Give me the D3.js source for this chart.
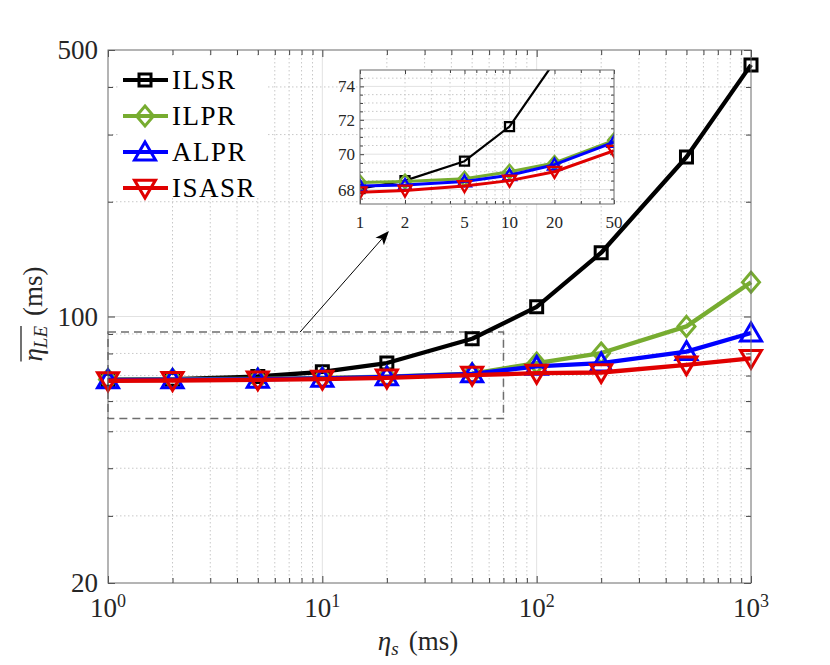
<!DOCTYPE html>
<html>
<head>
<meta charset="utf-8">
<script src="https://cdn.jsdelivr.net/npm/d3@7"></script>
<style>
  body { margin: 0; background: #fff; }
  svg { font-family: "Liberation Serif", "DejaVu Serif", serif; }
</style>
</head>
<body>
<svg width="830" height="665"></svg>
<script>
  // DATA
  const etaS = [1, 2, 5, 10, 20, 50, 100, 200, 500, 1000];
  const ilsr = [68.05, 68.5, 69.6, 71.6, 75.5, 87.4, 106, 147, 262, 457];
  const ilpr = [68.4, 68.45, 68.6, 69.0, 69.5, 70.8, 75.5, 80.2, 94.2, 123];
  const alpr = [68.2, 68.25, 68.45, 68.8, 69.4, 70.7, 74.0, 75.5, 80.9, 90.5];
  const isasr = [67.85, 67.95, 68.2, 68.5, 69.0, 70.2, 71.0, 71.3, 74.7, 77.7];
  const seriesNames = ["ILSR", "ILPR", "ALPR", "ISASR"];
  const xTickValues = [1, 10, 100, 1000];
  const xTickExponents = ["0", "1", "2", "3"];
  const yTickValues = [20, 100, 500];
  const zoomXTicks = [1, 2, 5, 10, 20, 50];
  const zoomYTicks = [68, 70, 72, 74];
  const zoomXDomain = [1, 50];
  const zoomYDomain = [67.2, 75];
  const zoomBoxX = [1, 70];
  const zoomBoxY = [54, 91];

  // SVG PARAMETERS
  const svg = d3.select("svg");
  const axisColor = "#404040";
  const textColor = "#262626";

  const series = [
    { name: seriesNames[0], values: ilsr, color: "#000000", shape: "square" },
    { name: seriesNames[1], values: ilpr, color: "#77ac30", shape: "diamond" },
    { name: seriesNames[2], values: alpr, color: "#0000ff", shape: "up" },
    { name: seriesNames[3], values: isasr, color: "#e00000", shape: "down" }
  ];

  // marker outlines, s = overall size in px
  const markerPath = (shape, s) => {
    const h = s / 2;
    if (shape === "square") return `M${-h},${-h}H${h}V${h}H${-h}Z`;
    if (shape === "diamond") return `M0,${-h}L${h * 0.85},0L0,${h}L${-h * 0.85},0Z`;
    if (shape === "up") return `M0,${-h * 0.95}L${h},${h * 0.75}L${-h},${h * 0.75}Z`;
    return `M0,${h * 0.95}L${h},${-h * 0.75}L${-h},${-h * 0.75}Z`;
  };
  const markerSize = { square: 12, diamond: 20, up: 21, down: 21 };
  const zoomMarkerSize = { square: 9, diamond: 14, up: 13, down: 13 };

  // log minor positions inside a domain
  const logMinors = (lo, hi) => {
    const out = [];
    for (let d = Math.pow(10, Math.floor(Math.log10(lo))); d < hi; d *= 10) {
      for (let k = 2; k < 10; k++) {
        const v = d * k;
        if (v > lo && v < hi) out.push(v);
      }
    }
    return out;
  };

  // MAIN AXES
  const plot = { left: 108, top: 50, right: 751, bottom: 583 };
  const innerWidth = plot.right - plot.left;
  const innerHeight = plot.bottom - plot.top;

  const xScale = d3.scaleLog().domain([1, 1000]).range([plot.left, plot.right]);
  const yScale = d3.scaleLog().domain([20, 500]).range([plot.bottom, plot.top]);

  const xMinor = logMinors(1, 1000);
  const yMinor = logMinors(20, 500);

  // grid
  const grid = svg.append("g");
  grid.selectAll(".xmin").data(xMinor).enter().append("line")
    .attr("x1", d => xScale(d)).attr("x2", d => xScale(d))
    .attr("y1", plot.top).attr("y2", plot.bottom)
    .attr("stroke", "#c8c8c8").attr("stroke-width", 1).attr("stroke-dasharray", "1.5,2.5");
  grid.selectAll(".ymin").data(yMinor).enter().append("line")
    .attr("y1", d => yScale(d)).attr("y2", d => yScale(d))
    .attr("x1", plot.left).attr("x2", plot.right)
    .attr("stroke", "#c8c8c8").attr("stroke-width", 1).attr("stroke-dasharray", "1.5,2.5");
  grid.selectAll(".xmaj").data([10, 100]).enter().append("line")
    .attr("x1", d => xScale(d)).attr("x2", d => xScale(d))
    .attr("y1", plot.top).attr("y2", plot.bottom)
    .attr("stroke", "#e2e2e2").attr("stroke-width", 1);
  grid.selectAll(".ymaj").data([100]).enter().append("line")
    .attr("y1", d => yScale(d)).attr("y2", d => yScale(d))
    .attr("x1", plot.left).attr("x2", plot.right)
    .attr("stroke", "#e2e2e2").attr("stroke-width", 1);

  // ticks on all four sides, pointing inward (labels drawn separately)
  const tickAxis = (g, axisFn, scale, values, size) => {
    const a = g.append("g").call(axisFn(scale).tickValues(values).tickSize(-size).tickFormat(""));
    a.select(".domain").remove();
    a.selectAll("text").remove();
    a.selectAll("line").attr("stroke", axisColor);
  };
  const axesG = svg.append("g");
  [[d3.axisBottom, `translate(0,${plot.bottom})`], [d3.axisTop, `translate(0,${plot.top})`]].forEach(([fn, tr]) => {
    const g = axesG.append("g").attr("transform", tr);
    tickAxis(g, fn, xScale, xTickValues, 7);
    tickAxis(g, fn, xScale, xMinor, 5);
  });
  [[d3.axisLeft, `translate(${plot.left},0)`], [d3.axisRight, `translate(${plot.right},0)`]].forEach(([fn, tr]) => {
    const g = axesG.append("g").attr("transform", tr);
    tickAxis(g, fn, yScale, yTickValues, 7);
    tickAxis(g, fn, yScale, yMinor, 5);
  });

  // tick labels
  xTickValues.forEach((v, i) => {
    const t = svg.append("text")
      .attr("x", xScale(v)).attr("y", 617)
      .attr("text-anchor", "middle").attr("fill", textColor)
      .style("font-size", "27px");
    t.append("tspan").text("10");
    t.append("tspan").attr("dy", -10).style("font-size", "18px").text(xTickExponents[i]);
  });
  svg.selectAll(".ylab").data(yTickValues).enter().append("text")
    .attr("x", 98).attr("y", d => yScale(d) + 9)
    .attr("text-anchor", "end").attr("fill", textColor)
    .style("font-size", "27px")
    .text(d => d);

  // axis titles
  const xTitle = svg.append("text")
    .attr("x", 418).attr("y", 650)
    .attr("text-anchor", "middle").attr("fill", textColor)
    .style("font-size", "27px");
  xTitle.append("tspan").style("font-style", "italic").text("η");
  xTitle.append("tspan").attr("dy", 5).style("font-style", "italic").style("font-size", "19px").text("s");
  xTitle.append("tspan").attr("dy", -5).attr("dx", 10).text("(ms)");

  const yTitleG = svg.append("g").attr("transform", "translate(42,314) rotate(-90)");
  const yTitle = yTitleG.append("text")
    .attr("x", 0).attr("y", 0)
    .attr("text-anchor", "middle").attr("fill", textColor)
    .style("font-size", "27px");
  yTitle.append("tspan").style("font-style", "italic").text("η");
  yTitle.append("tspan").attr("dy", 5).style("font-style", "italic").style("font-size", "19px").text("LE");
  yTitle.append("tspan").attr("dy", -5).attr("dx", 10).text("(ms)");
  {
    const n = yTitle.node();
    const a = n.getExtentOfChar(0);
    const b = n.getExtentOfChar(2);
    yTitleG.append("line")
      .attr("x1", a.x).attr("x2", b.x + b.width)
      .attr("y1", a.y + 3).attr("y2", a.y + 3)
      .attr("stroke", textColor).attr("stroke-width", 1.3);
  }

  // zoom box (dashed)
  svg.append("rect")
    .attr("x", xScale(zoomBoxX[0])).attr("y", yScale(zoomBoxY[1]))
    .attr("width", xScale(zoomBoxX[1]) - xScale(zoomBoxX[0]))
    .attr("height", yScale(zoomBoxY[0]) - yScale(zoomBoxY[1]))
    .attr("fill", "none").attr("stroke", "#6e6e6e")
    .attr("stroke-width", 1.5).attr("stroke-dasharray", "8,5");

  // LINES AND MARKERS
  const line = (xs, ys, values) => d3.line()
    .x((d, i) => xs(etaS[i])).y(d => ys(d))(values);

  series.forEach(s => {
    const g = svg.append("g");
    g.append("path")
      .attr("d", line(xScale, yScale, s.values))
      .attr("fill", "none").attr("stroke", s.color)
      .attr("stroke-width", 4.3).attr("stroke-linejoin", "round");
    g.selectAll("path.m").data(s.values).enter().append("path")
      .attr("class", "m")
      .attr("transform", (d, i) => `translate(${xScale(etaS[i])},${yScale(d)})`)
      .attr("d", markerPath(s.shape, markerSize[s.shape]))
      .attr("fill", "none").attr("stroke", s.color).attr("stroke-width", 3);
  });

  // frame
  svg.append("rect")
    .attr("x", plot.left).attr("y", plot.top)
    .attr("width", innerWidth).attr("height", innerHeight)
    .attr("fill", "none").attr("stroke", "#6a6a6a").attr("stroke-width", 1);

  // LEGEND
  const legend = svg.append("g");
  legend.append("rect")
    .attr("x", 118).attr("y", 58).attr("width", 150).attr("height", 140)
    .attr("fill", "#fff");
  series.forEach((s, i) => {
    const cy = 80 + i * 36;
    legend.append("line")
      .attr("x1", 123).attr("x2", 168).attr("y1", cy).attr("y2", cy)
      .attr("stroke", s.color).attr("stroke-width", 4);
    legend.append("path")
      .attr("transform", `translate(145,${cy})`)
      .attr("d", markerPath(s.shape, markerSize[s.shape]))
      .attr("fill", "none").attr("stroke", s.color).attr("stroke-width", 3);
    legend.append("text")
      .attr("x", 172).attr("y", cy + 9)
      .attr("fill", "#000").style("font-size", "27px").style("letter-spacing", "1.5px")
      .text(s.name);
  });

  // INSET
  const inset = { left: 360, top: 70, right: 614, bottom: 204 };
  const ix = d3.scaleLog().domain(zoomXDomain).range([inset.left, inset.right]);
  const iy = d3.scaleLog().domain(zoomYDomain).range([inset.bottom, inset.top]);
  const ixMinor = logMinors(1, 50);
  const iyMinor = d3.range(67.5, 75, 0.5).filter(v => !zoomYTicks.includes(v));

  // arrow from the dashed box to the inset
  const defs = svg.append("defs");
  defs.append("marker")
    .attr("id", "arrowhead").attr("viewBox", "0 0 10 10")
    .attr("refX", 9).attr("refY", 5)
    .attr("markerWidth", 14).attr("markerHeight", 14)
    .attr("markerUnits", "userSpaceOnUse").attr("orient", "auto")
    .append("path").attr("d", "M0,1L10,5L0,9L2.5,5Z").attr("fill", "#000");
  svg.append("line")
    .attr("x1", 300).attr("y1", yScale(zoomBoxY[1]))
    .attr("x2", 388).attr("y2", 232)
    .attr("stroke", "#000").attr("stroke-width", 1)
    .attr("marker-end", "url(#arrowhead)");

  const ig = svg.append("g");
  ig.append("rect")
    .attr("x", inset.left).attr("y", inset.top)
    .attr("width", inset.right - inset.left).attr("height", inset.bottom - inset.top)
    .attr("fill", "#fff");
  ig.selectAll(".ixmin").data(ixMinor).enter().append("line")
    .attr("x1", d => ix(d)).attr("x2", d => ix(d))
    .attr("y1", inset.top).attr("y2", inset.bottom)
    .attr("stroke", "#c8c8c8").attr("stroke-dasharray", "1.5,2.5");
  ig.selectAll(".iymin").data(iyMinor).enter().append("line")
    .attr("y1", d => iy(d)).attr("y2", d => iy(d))
    .attr("x1", inset.left).attr("x2", inset.right)
    .attr("stroke", "#c8c8c8").attr("stroke-dasharray", "1.5,2.5");
  ig.selectAll(".iymaj").data(zoomYTicks).enter().append("line")
    .attr("y1", d => iy(d)).attr("y2", d => iy(d))
    .attr("x1", inset.left).attr("x2", inset.right)
    .attr("stroke", "#e2e2e2");
  ig.selectAll(".ixmaj").data([10]).enter().append("line")
    .attr("x1", d => ix(d)).attr("x2", d => ix(d))
    .attr("y1", inset.top).attr("y2", inset.bottom)
    .attr("stroke", "#e2e2e2");

  [[d3.axisBottom, `translate(0,${inset.bottom})`], [d3.axisTop, `translate(0,${inset.top})`]].forEach(([fn, tr]) => {
    const g = ig.append("g").attr("transform", tr);
    tickAxis(g, fn, ix, zoomXTicks, 4);
    tickAxis(g, fn, ix, ixMinor.filter(v => !zoomXTicks.includes(v)), 3);
  });
  [[d3.axisLeft, `translate(${inset.left},0)`], [d3.axisRight, `translate(${inset.right},0)`]].forEach(([fn, tr]) => {
    const g = ig.append("g").attr("transform", tr);
    tickAxis(g, fn, iy, zoomYTicks, 4);
    tickAxis(g, fn, iy, iyMinor, 3);
  });

  ig.selectAll(".ixlab").data(zoomXTicks).enter().append("text")
    .attr("x", d => ix(d)).attr("y", 228)
    .attr("text-anchor", "middle").attr("fill", textColor)
    .style("font-size", "17px").text(d => d);
  ig.selectAll(".iylab").data(zoomYTicks).enter().append("text")
    .attr("x", 355).attr("y", d => iy(d) + 6)
    .attr("text-anchor", "end").attr("fill", textColor)
    .style("font-size", "17px").text(d => d);

  defs.append("clipPath").attr("id", "insetClip")
    .append("rect")
    .attr("x", inset.left).attr("y", inset.top)
    .attr("width", inset.right - inset.left).attr("height", inset.bottom - inset.top);

  const zoomIdx = etaS.map((d, i) => i).filter(i => etaS[i] <= zoomXDomain[1]);
  const ic = ig.append("g").attr("clip-path", "url(#insetClip)");
  series.forEach(s => {
    const vals = zoomIdx.map(i => s.values[i]);
    ic.append("path")
      .attr("d", line(ix, iy, vals))
      .attr("fill", "none").attr("stroke", s.color)
      .attr("stroke-width", s.shape === "square" ? 2.2 : 3).attr("stroke-linejoin", "round");
    ic.selectAll(null).data(vals).enter().append("path")
      .attr("transform", (d, i) => `translate(${ix(etaS[i])},${iy(d)})`)
      .attr("d", markerPath(s.shape, zoomMarkerSize[s.shape]))
      .attr("fill", "none").attr("stroke", s.color).attr("stroke-width", 2.3);
  });

  ig.append("rect")
    .attr("x", inset.left).attr("y", inset.top)
    .attr("width", inset.right - inset.left).attr("height", inset.bottom - inset.top)
    .attr("fill", "none").attr("stroke", "#6a6a6a").attr("stroke-width", 1);
</script>
</body>
</html>
